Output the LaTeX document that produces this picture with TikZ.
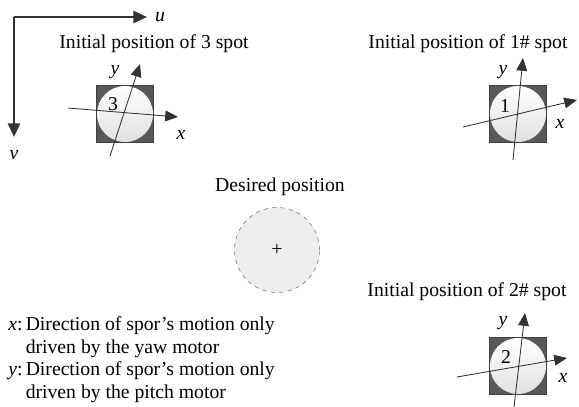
\documentclass[tikz,border=0pt]{standalone}
\usepackage{fontspec}
\setmainfont{Liberation Serif}
\usetikzlibrary{positioning,arrows.meta}

\begin{document}
\begin{tikzpicture}[x=0.025cm, y=-0.025cm,
        every node/.style={font=\fontsize{14}{16}\selectfont},
        frame/.style={rectangle, draw=black!75, fill=black!65, minimum size=1.425cm, inner sep=0pt},
        spot/.style={circle, top color=white, bottom color=black!12, minimum size=1.4cm, inner sep=0pt},
        target/.style={circle, draw=black!55, dashed, fill=black!7, minimum size=2.125cm, inner sep=0pt},
        axis/.style={draw=black!80, line width=0.6pt, -{Triangle[length=3.2mm, width=2.7mm]}},
        imgaxis/.style={draw=black!80, line width=1.8pt, -{Triangle[length=3.4mm, width=3mm]}}
    ]
        \useasboundingbox (0,0) rectangle (579,407);

        % Image frame
        \coordinate (origin) at (14,17);
        \coordinate (uend) at (147,17);
        \coordinate (vend) at (14,137);
        \draw[imgaxis] (origin) -- (uend);
        \draw[imgaxis] (origin) -- (vend);
        \node (u) at (160,17) {\textit{u}};
        \node (v) at (14,155) {\textit{v}};

        % Spot 3
        \node (title3) at (154,44) {Initial position of 3 spot};
        \node[frame] (frame3) at (125,114) {};
        \node[spot] (spot3) at (125,114) {};
        \coordinate (x3s) at (68,108);
        \coordinate (x3e) at (178,117);
        \coordinate (y3s) at (110,156);
        \coordinate (y3e) at (140,64);
        \draw[axis] (x3s) -- (x3e);
        \draw[axis] (y3s) -- (y3e);
        \node (num3) at (113,104) {3};
        \node (xlab3) at (181,135) {\textit{x}};
        \node (ylab3) at (115,72) {\textit{y}};

        % Spot 1
        \node (title1) at (468,44) {Initial position of 1\# spot};
        \node[frame] (frame1) at (518,114) {};
        \node[spot] (spot1) at (518,114) {};
        \coordinate (x1s) at (463,127);
        \coordinate (x1e) at (577,100);
        \coordinate (y1s) at (513,160);
        \coordinate (y1e) at (523,58);
        \draw[axis] (x1s) -- (x1e);
        \draw[axis] (y1s) -- (y1e);
        \node (num1) at (505,106) {1};
        \node (xlab1) at (560,124) {\textit{x}};
        \node (ylab1) at (503,72) {\textit{y}};

        % Desired position
        \node (titled) at (280,187) {Desired position};
        \node[target] (desired) at (277,250) {+};

        % Spot 2
        \node (title2) at (467,292) {Initial position of 2\# spot};
        \node[frame] (frame2) at (518,366) {};
        \node[spot] (spot2) at (518,366) {};
        \coordinate (x2s) at (457,377);
        \coordinate (x2e) at (567,358);
        \coordinate (y2s) at (514,407);
        \coordinate (y2e) at (525,313);
        \draw[axis] (x2s) -- (x2e);
        \draw[axis] (y2s) -- (y2e);
        \node (num2) at (506,357) {2};
        \node (xlab2) at (563,378) {\textit{x}};
        \node (ylab2) at (503,323) {\textit{y}};

        % Legend
        \node[anchor=west, inner sep=0pt] (legend) at (8,360) {%
            \begin{tabular}{@{}l@{\,}l@{}}
                \textit{x}: & Direction of spor's motion only \\
                            & driven by the yaw motor \\
                \textit{y}: & Direction of spor's motion only \\
                            & driven by the pitch motor
            \end{tabular}};
    \end{tikzpicture}
\end{document}
